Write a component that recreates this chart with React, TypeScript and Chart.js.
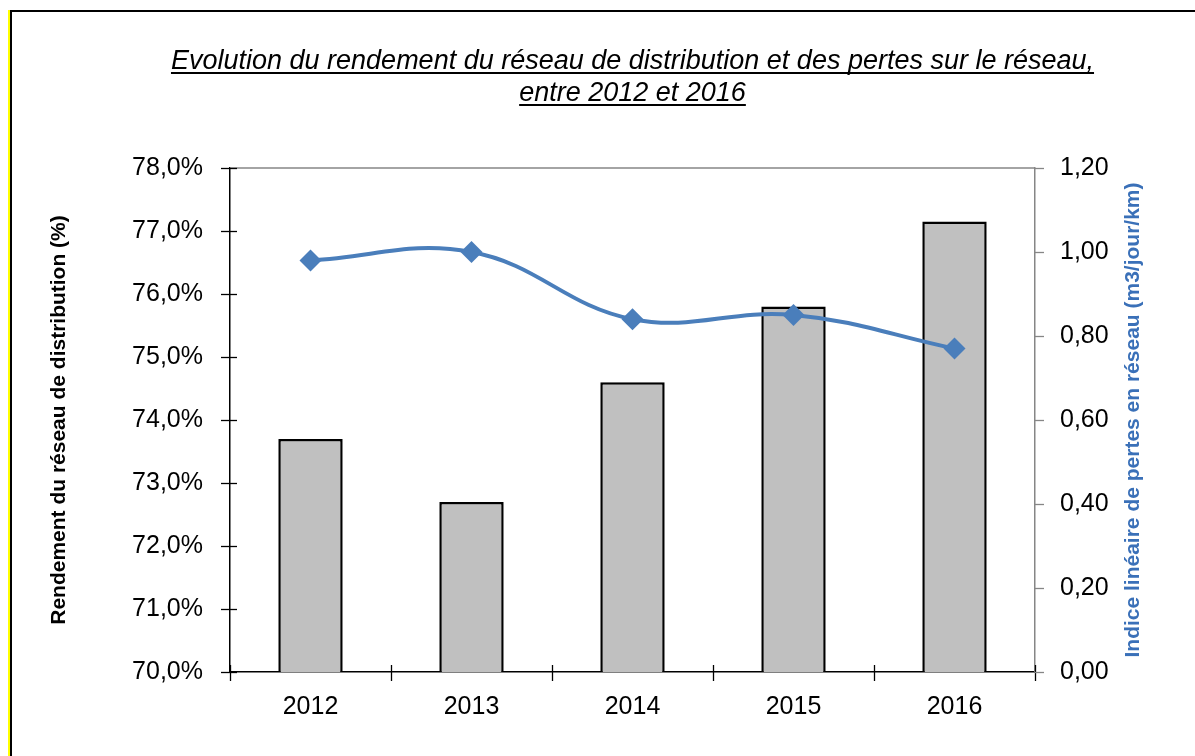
import React, { useEffect, useRef } from "react";
import { Chart, registerables } from "chart.js";

Chart.register(...registerables);

const years = ["2012", "2013", "2014", "2015", "2016"];
const rendement = [73.7, 72.7, 74.6, 75.8, 77.15];
const indicePertes = [0.98, 1.0, 0.84, 0.85, 0.77];
const titleLines = [
  "Evolution du rendement du réseau de distribution et des pertes sur le réseau,",
  "entre 2012 et 2016",
];
const leftTitle = "Rendement du réseau de distribution (%)";
const rightTitle = "Indice linéaire de pertes en réseau (m3/jour/km)";

const FONT = '"Liberation Sans", Arial, sans-serif';

const decorPlugin = {
  id: "decor",
  afterDraw(chart: any) {
    const ctx = chart.ctx;
    const area = chart.chartArea;
    const xs = chart.scales.x;
    const yl = chart.scales.y;
    const yr = chart.scales.y1;
    ctx.save();
    // plot-area top border
    ctx.strokeStyle = "#868686";
    ctx.lineWidth = 1.5;
    ctx.beginPath();
    ctx.moveTo(area.left, area.top);
    ctx.lineTo(area.right, area.top);
    ctx.stroke();
    // left ticks (crossing)
    ctx.strokeStyle = "#000";
    ctx.lineWidth = 1.3;
    yl.ticks.forEach((t: any) => {
      const y = Math.round(yl.getPixelForValue(t.value)) + 0.5;
      ctx.beginPath();
      ctx.moveTo(area.left - 9, y);
      ctx.lineTo(area.left + 7, y);
      ctx.stroke();
    });
    // x ticks (crossing) at category boundaries
    const n = years.length;
    const w = (area.right - area.left) / n;
    for (let i = 0; i <= n; i++) {
      const x = Math.round(xs.getPixelForValue(0) - w / 2 + i * w) + 0.5;
      ctx.beginPath();
      ctx.moveTo(x, area.bottom - 7);
      ctx.lineTo(x, area.bottom + 9);
      ctx.stroke();
    }
    // right ticks (outside)
    ctx.strokeStyle = "#868686";
    yr.ticks.forEach((t: any) => {
      const y = Math.round(yr.getPixelForValue(t.value)) + 0.5;
      ctx.beginPath();
      ctx.moveTo(area.right, y);
      ctx.lineTo(area.right + 9, y);
      ctx.stroke();
    });
    // title
    const cx = (area.left + area.right) / 2;
    ctx.fillStyle = "#000";
    ctx.font = "italic 27px " + FONT;
    ctx.textAlign = "center";
    ctx.textBaseline = "alphabetic";
    const baselines = [69, 101];
    titleLines.forEach((line, i) => {
      ctx.fillText(line, cx, baselines[i]);
      const tw = ctx.measureText(line).width;
      ctx.fillRect(cx - tw / 2, baselines[i] + 3, tw, 2);
    });
    // right axis title, reading bottom to top
    ctx.translate(1133, (area.top + area.bottom) / 2);
    ctx.rotate(-Math.PI / 2);
    ctx.font = "bold 21px " + FONT;
    ctx.fillStyle = "#3a70b8";
    ctx.textBaseline = "middle";
    ctx.fillText(rightTitle, 0, 0);
    ctx.restore();
  },
};

export default function App() {
  const ref = useRef<HTMLCanvasElement | null>(null);
  useEffect(() => {
    if (!ref.current) return;
    const chart = new Chart(ref.current, {
      type: "bar",
      data: {
        labels: years,
        datasets: [
          {
            type: "line",
            label: "Indice linéaire de pertes",
            data: indicePertes,
            yAxisID: "y1",
            borderColor: "#4a7ebb",
            backgroundColor: "#4a7ebb",
            borderWidth: 4,
            tension: 0.4,
            pointStyle: "rectRot",
            pointRadius: 11,
            pointBorderWidth: 0,
            pointBackgroundColor: "#4a7ebb",
            order: 0,
          } as any,
          {
            type: "bar",
            label: "Rendement",
            data: rendement,
            yAxisID: "y",
            backgroundColor: "#c0c0c0",
            borderColor: "#000",
            borderWidth: 2.5,
            categoryPercentage: 1,
            barPercentage: 0.4,
            order: 1,
          } as any,
        ],
      },
      options: {
        animation: false,
        responsive: false,
        layout: { padding: { top: 168, left: 0, right: 0, bottom: 0 } },
        plugins: {
          legend: { display: false },
          tooltip: { enabled: false },
          title: { display: false },
        },
        scales: {
          x: {
            grid: { display: true, drawOnChartArea: false, drawTicks: false },
            border: { display: true, color: "#000", width: 1.5 },
            ticks: { color: "#000", font: { family: FONT, size: 25 }, padding: 20 },
            afterFit: (s: any) => {
              s.height = 84;
            },
          },
          y: {
            position: "left",
            min: 70,
            max: 78,
            grid: { display: true, drawOnChartArea: false, drawTicks: false },
            border: { display: true, color: "#000", width: 1.5 },
            ticks: {
              stepSize: 1,
              color: "#000",
              font: { family: FONT, size: 25 },
              padding: 27,
              callback: (v: any) => Number(v).toFixed(1).replace(".", ",") + "%",
            },
            title: {
              display: true,
              text: leftTitle,
              color: "#000",
              font: { family: FONT, size: 21, weight: "bold" },
              padding: { top: 47, bottom: 0 },
            },
            afterFit: (s: any) => {
              s.width = 230;
            },
          },
          y1: {
            position: "right",
            min: 0,
            max: 1.2,
            grid: { display: true, drawOnChartArea: false, drawTicks: false },
            border: { display: true, color: "#868686", width: 1.5 },
            ticks: {
              stepSize: 0.2,
              color: "#000",
              font: { family: FONT, size: 25 },
              padding: 25,
              callback: (v: any) => Number(v).toFixed(2).replace(".", ","),
            },
            afterFit: (s: any) => {
              s.width = 160;
            },
          },
        },
      } as any,
      plugins: [decorPlugin],
    });
    return () => chart.destroy();
  }, []);

  return (
    <div style={{ position: "absolute", left: 0, top: 0, width: 1195, height: 756, background: "#fff", overflow: "hidden" }}>
      <div style={{ position: "absolute", left: 8, top: 10, width: 2, height: 746, background: "#ffff00" }} />
      <div style={{ position: "absolute", left: 10, top: 10, width: 1.5, height: 746, background: "#000" }} />
      <div style={{ position: "absolute", left: 10, top: 10, width: 1185, height: 1.5, background: "#000" }} />
      <canvas ref={ref} width={1195} height={756} style={{ position: "absolute", left: 0, top: 0 }} />
    </div>
  );
}
